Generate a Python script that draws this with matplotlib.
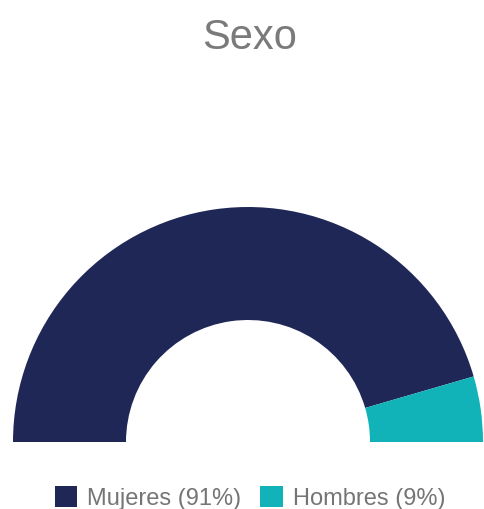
import matplotlib
matplotlib.use("Agg")
import matplotlib.pyplot as plt

categories = ["Mujeres", "Hombres"]
values = [91, 9]
colors = ["#1F2757", "#12B3B8"]
title = "Sexo"

plt.rcParams['font.family'] = ['Liberation Sans', 'DejaVu Sans']

W, H = 484, 509
fig = plt.figure(figsize=(W / 100, H / 100), dpi=100)
ax = fig.add_axes([0, 0, 1, 1])

# half donut: hidden lower half equal to the total
wedges, _ = ax.pie(values + [sum(values)], colors=colors + ["none"],
                   startangle=180, counterclock=False,
                   center=(248, H - 442), radius=235,
                   wedgeprops=dict(width=113, linewidth=0))
ax.set_xlim(0, W)
ax.set_ylim(0, H)
ax.set_aspect('equal')
ax.axis('off')

fig.text(250 / W, 1 - 38 / H, title, ha='center', va='center',
         fontsize=30, color='#7a7a7a')

labels = [f"{c} ({v}%)" for c, v in zip(categories, values)]
leg = fig.legend(wedges[:2], labels, loc='center', bbox_to_anchor=(250 / W, 1 - 498 / H),
                 ncol=2, frameon=False, fontsize=17, handlelength=0.95,
                 handleheight=0.95, handletextpad=0.42, columnspacing=0.8,
                 labelcolor='#757575')

fig.savefig("out.png", dpi=100)
